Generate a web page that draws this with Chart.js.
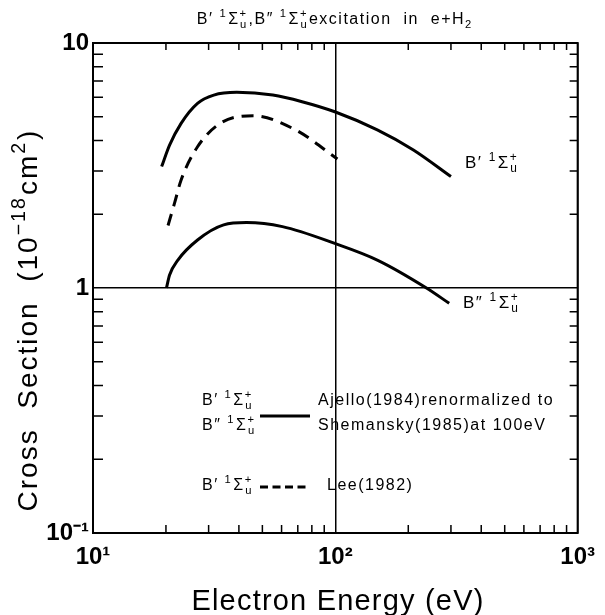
<!DOCTYPE html>
<html>
<head>
<meta charset="utf-8">
<script src="https://cdn.jsdelivr.net/npm/chart.js@4/dist/chart.umd.min.js"></script>
<style>
  body { margin: 0; background: #fff; }
  canvas { display: block; }
</style>
</head>
<body>
<canvas id="chart" width="605" height="615"></canvas>
<script>
// values (energy in eV, cross section in 1e-18 cm^2)
const energyBp = [19.2, 20.7, 23.1, 27, 31.5, 39.2, 55.2, 72.9, 99.5, 149, 210, 300];
const sigmaBp = [3.13, 3.83, 4.70, 5.67, 6.13, 6.29, 6.13, 5.76, 5.24, 4.42, 3.66, 2.85];

const energyLee = [20.4, 21.7, 23.1, 27, 33.5, 45.8, 68.5, 102];
const sigmaLee = [1.80, 2.22, 2.76, 3.77, 4.70, 5.05, 4.42, 3.36];

const energyBpp = [20.1, 20.7, 22.4, 27, 34.6, 43, 60.5, 99.5, 149, 237.7, 295];
const sigmaBpp = [1.0, 1.13, 1.30, 1.57, 1.81, 1.85, 1.78, 1.52, 1.30, 1.0, 0.866];

const xTicks = [10, 100, 1000];
const xTickLabels = ['10¹', '10²', '10³'];
const yTicks = [0.1, 1, 10];
const yTickLabels = ['10⁻¹', '1', '10'];

const FAM = '"Liberation Sans", Arial, sans-serif';
const NARROW = '"Liberation Sans Narrow", "Liberation Sans", sans-serif';
const SMALL = 0.7;

function toPoints(xs, ys) {
    return xs.map((x, i) => ({x: x, y: ys[i]}));
}

// rich text: strings are normal, {sup}, {sub}, {stack:[sup, sub]}
function measureRich(ctx, parts, size) {
    let w = 0;
    for (const p of parts) {
        if (typeof p === 'string') {
            ctx.font = size + 'px ' + FAM;
            w += ctx.measureText(p).width;
        } else {
            ctx.font = (size * SMALL) + 'px ' + FAM;
            const items = p.stack || [p.sup || p.sub];
            w += Math.max(...items.map(t => ctx.measureText(t).width)) + 1;
        }
    }
    return w;
}

function drawRich(ctx, parts, x, y, size, align) {
    let cx = align === 'center' ? x - measureRich(ctx, parts, size) / 2 : x;
    ctx.textAlign = 'left';
    ctx.textBaseline = 'alphabetic';
    for (const p of parts) {
        if (typeof p === 'string') {
            ctx.font = size + 'px ' + FAM;
            ctx.fillText(p, cx, y);
            cx += ctx.measureText(p).width;
        } else {
            ctx.font = (size * SMALL) + 'px ' + FAM;
            let w;
            if (p.stack) {
                ctx.fillText(p.stack[0], cx, y - size * 0.42);
                ctx.fillText(p.stack[1], cx + 0.5, y + size * 0.22);
                w = Math.max(ctx.measureText(p.stack[0]).width, ctx.measureText(p.stack[1]).width);
            } else if (p.sup) {
                ctx.fillText(p.sup, cx, y - size * 0.42);
                w = ctx.measureText(p.sup).width;
            } else {
                ctx.fillText(p.sub, cx, y + size * 0.22);
                w = ctx.measureText(p.sub).width;
            }
            cx += w + 1;
        }
    }
}

function term(primes) {
    return ['B' + primes + ' ', {sup: '1'}, 'Σ', {stack: ['+', 'u']}];
}

const decorPlugin = {
    id: 'decor',
    afterDraw(chart) {
        const ctx = chart.ctx;
        const a = chart.chartArea;
        const xs = chart.scales.x;
        const ys = chart.scales.y;
        ctx.save();
        ctx.strokeStyle = '#000';
        ctx.fillStyle = '#000';

        // frame
        ctx.lineWidth = 2;
        ctx.strokeRect(a.left, a.top, a.right - a.left, a.bottom - a.top);

        // minor ticks, pointing inward
        ctx.lineWidth = 1.5;
        ctx.beginPath();
        for (const d of [10, 100]) {
            for (let k = 2; k <= 9; k++) {
                const px = xs.getPixelForValue(d * k);
                ctx.moveTo(px, a.bottom);
                ctx.lineTo(px, a.bottom - 8);
                ctx.moveTo(px, a.top);
                ctx.lineTo(px, a.top + 7);
            }
        }
        for (const d of [0.1, 1]) {
            for (let k = 2; k <= 9; k++) {
                const py = ys.getPixelForValue(d * k);
                ctx.moveTo(a.left, py);
                ctx.lineTo(a.left + 10, py);
                ctx.moveTo(a.right, py);
                ctx.lineTo(a.right - 8, py);
            }
        }
        ctx.stroke();

        // title
        ctx.letterSpacing = '1.5px';
        drawRich(ctx, [...term('′'), ',', ...term('″'), 'excitation  in  e+H', {sub: '2'}],
            (a.left + a.right) / 2, 24, 16, 'center');

        // curve labels
        drawRich(ctx, term('′'), 465, 168, 17);
        drawRich(ctx, term('″'), 463, 308, 17);

        // legend
        drawRich(ctx, term('′'), 202, 405, 16);
        drawRich(ctx, term('″'), 202, 430, 16);
        drawRich(ctx, term('′'), 202, 490, 16);
        ctx.font = '16px ' + FAM;
        ctx.fillText('Ajello(1984)renormalized to', 318, 405);
        ctx.fillText('Shemansky(1985)at 100eV', 318, 430);
        ctx.fillText('Lee(1982)', 327, 490);
        ctx.lineWidth = 3;
        ctx.beginPath();
        ctx.moveTo(260, 416);
        ctx.lineTo(310, 416);
        ctx.stroke();
        ctx.setLineDash([8, 4.5]);
        ctx.beginPath();
        ctx.moveTo(260, 487);
        ctx.lineTo(308, 487);
        ctx.stroke();
        ctx.setLineDash([]);

        // axis titles
        ctx.letterSpacing = '1.2px';
        drawRich(ctx, ['Electron Energy (eV)'], 338, 610, 29, 'center');
        ctx.letterSpacing = '2px';
        ctx.translate(37, 320);
        ctx.rotate(-Math.PI / 2);
        drawRich(ctx, ['Cross  Section  (10', {sup: '−18'}, 'cm', {sup: '2'}, ')'], 0, 0, 28, 'center');
        ctx.restore();
    }
};

const lineStyle = {
    showLine: true,
    borderColor: '#000',
    borderWidth: 3,
    pointRadius: 0,
    fill: false,
    cubicInterpolationMode: 'monotone'
};

new Chart(document.getElementById('chart'), {
    type: 'scatter',
    data: {
        datasets: [
            Object.assign({label: "B' Ajello", data: toPoints(energyBp, sigmaBp)}, lineStyle),
            Object.assign({label: "B' Lee", data: toPoints(energyLee, sigmaLee), borderDash: [12, 8]}, lineStyle),
            Object.assign({label: "B'' Ajello", data: toPoints(energyBpp, sigmaBpp)}, lineStyle)
        ]
    },
    options: {
        responsive: false,
        animation: false,
        layout: {padding: {top: 43, right: 19, left: 0, bottom: 0}},
        plugins: {
            legend: {display: false},
            tooltip: {enabled: false},
            title: {display: false}
        },
        scales: {
            x: {
                type: 'logarithmic',
                min: 10,
                max: 1000,
                afterBuildTicks: s => { s.ticks = xTicks.map(v => ({value: v})); },
                afterFit: s => { s.height = 82; },
                grid: {color: '#000', lineWidth: 1.5, drawTicks: false},
                border: {display: false},
                ticks: {
                    callback: (v, i) => xTickLabels[i],
                    font: {family: NARROW, size: 24, weight: 'bold'},
                    color: '#000',
                    padding: 10,
                    maxRotation: 0,
                    autoSkip: false
                }
            },
            y: {
                type: 'logarithmic',
                min: 0.1,
                max: 10,
                afterBuildTicks: s => { s.ticks = yTicks.map(v => ({value: v})); },
                afterFit: s => { s.width = 93; },
                grid: {color: '#000', lineWidth: 1.5, drawTicks: false},
                border: {display: false},
                ticks: {
                    callback: (v, i) => yTickLabels[i],
                    font: {family: NARROW, size: 24, weight: 'bold'},
                    color: '#000',
                    padding: 4,
                    autoSkip: false
                }
            }
        }
    },
    plugins: [decorPlugin]
});
</script>
</body>
</html>
